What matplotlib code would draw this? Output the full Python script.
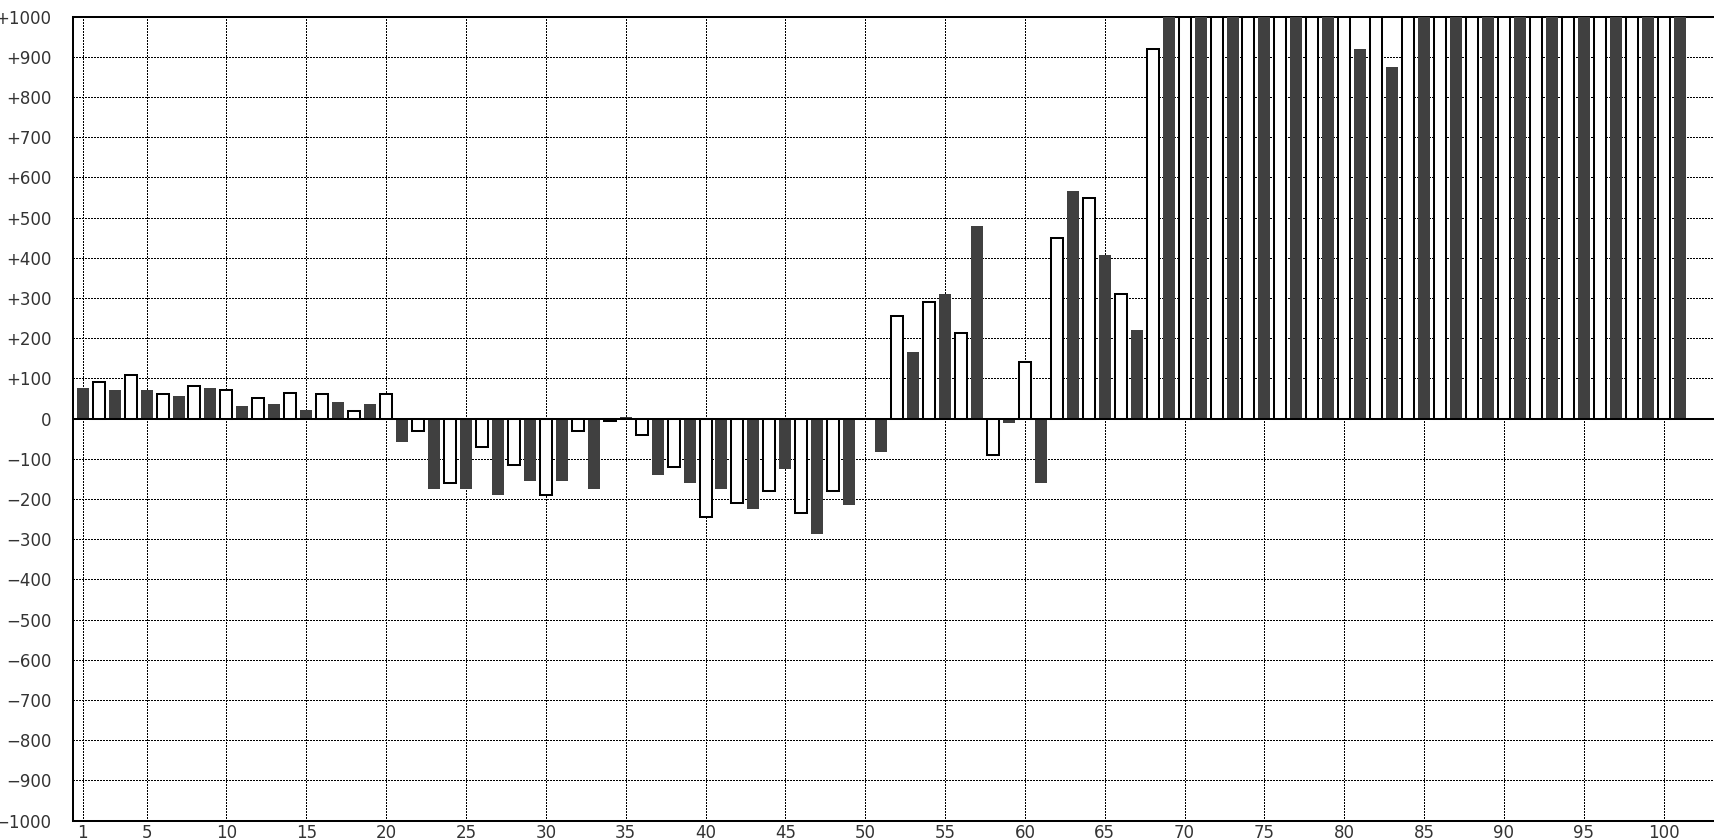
import matplotlib
matplotlib.use('Agg')
import matplotlib.pyplot as plt

positions = list(range(1, 102))
values = [
    76, 90, 71, 109, 71, 60, 56, 80, 76, 70,
    32, 50, 36, 64, 22, 60, 41, 20, 36, 60,
    -57, -30, -176, -160, -176, -70, -191, -116, -156, -190,
    -156, -30, -176, -5, 5, -40, -141, -120, -161, -244,
    -176, -210, -226, -180, -126, -235, -286, -180, -216, 0,
    -83, 254, 166, 289, 311, 214, 480, -91, -12, 140,
    -160, 449, 565, 549, 406, 309, 221, 918, 1000, 1000,
    1000, 1000, 1000, 1000, 1000, 1000, 1000, 1000, 1000, 1000,
    918, 1000, 875, 1000, 1000, 1000, 1000, 1000, 1000, 1000,
    1000, 1000, 1000, 1000, 1000, 1000, 1000, 1000, 1000, 1000,
    1000,
]
x_ticks = [1] + list(range(5, 101, 5))
y_ticks = list(range(-1000, 1001, 100))
y_labels = ['0' if v == 0 else ('+%d' % v if v > 0 else '\u2212%d' % -v) for v in y_ticks]

fig = plt.figure(figsize=(17.14, 8.4), dpi=100)
ax = fig.add_axes([73 / 1714, 1 - 820.7 / 840, 1 - 73 / 1714, (820.7 - 16.5) / 840])

# odd bars dark, even bars hollow
dark_x = [p for p in positions if p % 2 == 1]
dark_v = [v for p, v in zip(positions, values) if p % 2 == 1]
light_x = [p for p in positions if p % 2 == 0]
light_v = [v for p, v in zip(positions, values) if p % 2 == 0]

ax.bar(dark_x, dark_v, width=0.75, color='#404040', linewidth=0, zorder=3)
ax.bar(light_x, light_v, width=0.75, color='white', edgecolor='black', linewidth=1.45, zorder=3)

ax.axhline(0, color='black', linewidth=1.45, zorder=4)

ax.set_xlim(0.393, 103.15)
ax.set_ylim(-1000, 1000)
ax.set_xticks(x_ticks)
ax.set_yticks(y_ticks)
ax.set_yticklabels(y_labels)

dots = (0, (1.4, 1.4))
for v in y_ticks:
    if v not in (-1000, 0, 1000):
        ax.axhline(v, color='black', linewidth=0.72, linestyle=dots, antialiased=False, zorder=1)
for t in x_ticks:
    ax.axvline(t, color='black', linewidth=0.72, linestyle=dots, antialiased=False, zorder=1)

ax.tick_params(axis='both', length=0, labelsize=12, labelcolor='#333333')
ax.tick_params(axis='y', pad=15.5)
ax.tick_params(axis='x', pad=2.5)

for side in ['left', 'top', 'bottom']:
    ax.spines[side].set_linewidth(1.45)
    ax.spines[side].set_color('black')
ax.spines['right'].set_visible(False)

fig.savefig('out.png', dpi=100)
